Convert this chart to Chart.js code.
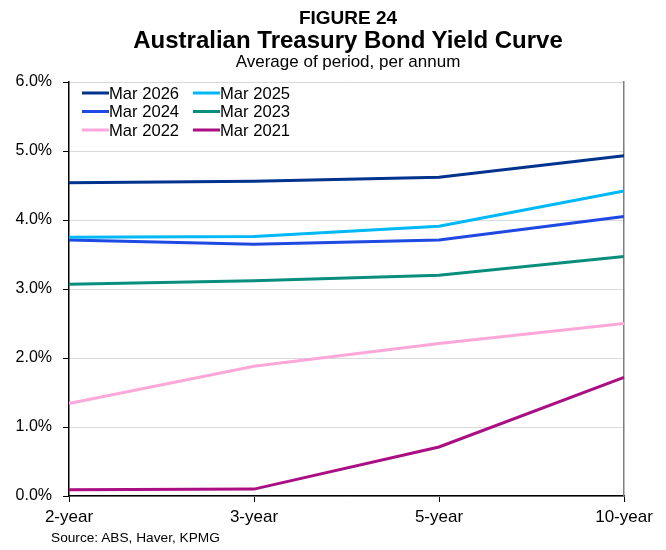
<!DOCTYPE html>
<html>
<head>
<meta charset="utf-8">
<script src="https://cdn.jsdelivr.net/npm/chart.js@4"></script>
<style>
  body { margin: 0; background: #fff; font-family: "Liberation Sans", Arial, sans-serif; }
  #wrap { position: relative; width: 666px; height: 550px; }
  canvas { position: absolute; left: 0; top: 0; }
  .txt { position: absolute; line-height: 1; color: #000; white-space: nowrap; }
  .center { left: 30px; width: 636px; text-align: center; }
</style>
</head>
<body>
<div id="wrap">
  <canvas id="yieldCurveChart" width="666" height="550"></canvas>
  <div class="txt center" style="top:8px; font-size:19px; font-weight:bold;">FIGURE 24</div>
  <div class="txt center" style="top:28px; font-size:24px; font-weight:bold;">Australian Treasury Bond Yield Curve</div>
  <div class="txt center" style="top:53px; font-size:17px;">Average of period, per annum</div>
  <div class="txt" style="left:51px; top:531px; font-size:13.7px;">Source: ABS, Haver, KPMG</div>
</div>
<script>
document.addEventListener('DOMContentLoaded', function() {
// Yield curve - average of period, per annum (%)
const maturities = ['2-year', '3-year', '5-year', '10-year'];
const mar2026 = [4.54, 4.56, 4.62, 4.93];
const mar2025 = [3.75, 3.76, 3.91, 4.42];
const mar2024 = [3.71, 3.65, 3.71, 4.05];
const mar2023 = [3.07, 3.12, 3.20, 3.47];
const mar2022 = [1.34, 1.88, 2.21, 2.50];
const mar2021 = [0.09, 0.10, 0.71, 1.72];

const seriesLabels = ['Mar 2026', 'Mar 2025', 'Mar 2024', 'Mar 2023', 'Mar 2022', 'Mar 2021'];
const seriesColors = ['#00338D', '#00B8F5', '#1E49E2', '#098E7E', '#FDA8D8', '#AB0D82'];
const seriesValues = [mar2026, mar2025, mar2024, mar2023, mar2022, mar2021];

const font = '"Liberation Sans", Arial, sans-serif';

// legend drawn in two columns inside the plot area
const twoColLegend = {
    id: 'twoColLegend',
    afterDraw(chart) {
        const ctx = chart.ctx;
        const area = chart.chartArea;
        ctx.save();
        ctx.font = '16.6px ' + font;
        ctx.textBaseline = 'middle';
        ctx.fillStyle = '#000';
        chart.data.datasets.forEach(function(ds, i) {
            const col = i % 2;
            const row = Math.floor(i / 2);
            const x = area.left + 13 + col * 111;
            const y = area.top + 11 + row * 18.5;
            ctx.strokeStyle = ds.borderColor;
            ctx.lineWidth = 3;
            ctx.beginPath();
            ctx.moveTo(x, y);
            ctx.lineTo(x + 27, y);
            ctx.stroke();
            ctx.fillText(ds.label, x + 27, y + 1);
        });
        ctx.restore();
    }
};

const ctx = document.getElementById('yieldCurveChart').getContext('2d');
new Chart(ctx, {
    type: 'line',
    data: {
        labels: maturities,
        datasets: seriesLabels.map(function(label, i) {
            return {
                label: label,
                data: seriesValues[i],
                borderColor: seriesColors[i],
                backgroundColor: seriesColors[i],
                borderWidth: 3,
                pointRadius: 0,
                tension: 0
            };
        })
    },
    options: {
        responsive: false,
        animation: false,
        layout: { padding: { left: 0, right: 42, top: 82, bottom: 20 } },
        plugins: {
            legend: { display: false },
            tooltip: { enabled: false }
        },
        scales: {
            x: {
                offset: false,
                grid: { display: true, drawOnChartArea: false, tickLength: 6, tickColor: '#000', lineWidth: 1 },
                border: { display: true, color: '#000', width: 1.5 },
                ticks: { color: '#000', font: { family: font, size: 17 }, padding: 5, maxRotation: 0 },
                afterFit: function(scale) { scale.height = 34; }
            },
            y: {
                min: 0,
                max: 6,
                ticks: {
                    stepSize: 1,
                    color: '#000',
                    font: { family: font, size: 16 },
                    padding: 11,
                    callback: function(v) { return v.toFixed(1) + '%'; }
                },
                grid: { color: '#d9d9d9', lineWidth: 1, tickLength: 6, tickColor: '#000' },
                border: { display: true, color: '#000', width: 1.5 },
                afterFit: function(scale) { scale.width = 69; }
            },
            y2: {
                position: 'right',
                min: 0,
                max: 6,
                ticks: { display: false },
                grid: { display: true, drawOnChartArea: false, tickLength: 0 },
                border: { display: true, color: '#7f7f7f', width: 1.5 },
                afterFit: function(scale) { scale.width = 0; }
            }
        }
    },
    plugins: [twoColLegend]
});

});
</script>
</body>
</html>
